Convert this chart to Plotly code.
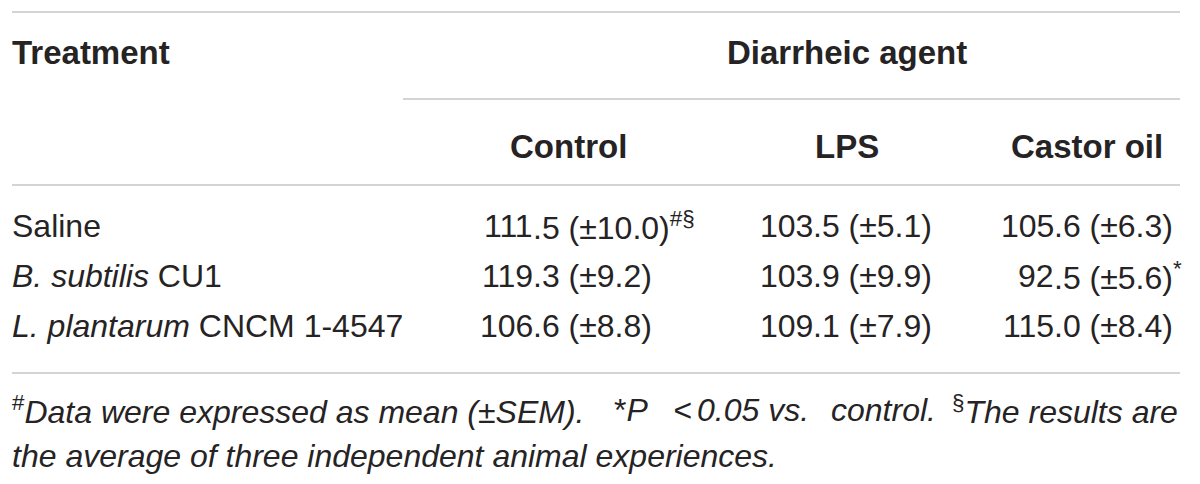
import plotly.graph_objects as go

# table content
treatments = ["Saline", "<i>B. subtilis</i> CU1", "<i>L. plantarum</i> CNCM 1-4547"]
agents = ["Control", "LPS", "Castor oil"]
means = [[111.5, 103.5, 105.6],
         [119.3, 103.9, 92.5],
         [106.6, 109.1, 115.0]]
sems = [[10.0, 5.1, 6.3],
        [9.2, 9.9, 5.6],
        [8.8, 7.9, 8.4]]
marks = [["#§", "", ""],
         ["", "", "*"],
         ["", "", ""]]
# first footnote line is justified in the original, so it is set in pieces
foot_line1 = ["<sup>#</sup><i>Data were expressed as mean (±SEM).</i>",
              "*<i>P</i>",
              "<i>&lt;</i>",
              "<i>0.05 vs.</i>",
              "<i>control.</i>",
              "<sup>§</sup><i>The results are</i>"]
foot_line2 = "<i>the average of three independent animal experiences.</i>"

W, H = 1200, 484
OFF = 8  # default body margin of the html page
ink = "#262324"
rule = "#c6c6c6"
body = dict(family="Liberation Sans", size=32, color=ink)
bold = dict(family="Liberation Sans", size=33, color=ink, weight="bold")
small = dict(family="Liberation Sans", size=32, color=ink)

# layout positions (screen pixels)
left = 12
right = 1180
head_y = 52
sub_y = 146
row_y = [226, 276, 326]
col_c = [568, 847, 1087]
dec_x = [533, 813, 1054]
foot_y = [410, 456]
foot_x = [(left, "left"), (614, "left"), (682, "center"), (697, "left"),
          (936, "right"), (1178, "right")]

fig = go.Figure()
ann = []

ann.append(dict(x=left, y=head_y, text="Treatment", xanchor="left", font=bold))
ann.append(dict(x=col_c[1], y=head_y, text="Diarrheic agent", xanchor="center", font=bold))
for a, cx in zip(agents, col_c):
    ann.append(dict(x=cx, y=sub_y, text=a, xanchor="center", font=bold))

for i, t in enumerate(treatments):
    ann.append(dict(x=left, y=row_y[i], text=t, xanchor="left", font=body))
    for j in range(3):
        # decimal-aligned: integer part ends at dec_x, the rest starts there
        ip, fp = f"{means[i][j]:.1f}".split(".")
        ann.append(dict(x=dec_x[j], y=row_y[i], text=ip, xanchor="right", font=body))
        rest = f".{fp} (±{sems[i][j]:.1f})"
        if marks[i][j]:
            rest += f"<sup>{marks[i][j]}</sup>"
        ann.append(dict(x=dec_x[j], y=row_y[i], text=rest, xanchor="left", font=body))

for piece, (fx, anchor) in zip(foot_line1, foot_x):
    ann.append(dict(x=fx, y=foot_y[0], text=piece, xanchor=anchor, font=small))
ann.append(dict(x=left, y=foot_y[1], text=foot_line2, xanchor="left", font=small))

for a in ann:
    a.update(xref="x", yref="y", showarrow=False, yanchor="middle",
             borderpad=0, borderwidth=0)

shapes = []
for x0, y in [(left, 12), (403, 99), (left, 185), (left, 373)]:
    shapes.append(dict(type="line", xref="x", yref="y", x0=x0, x1=right, y0=y, y1=y,
                       line=dict(color=rule, width=1.6)))

fig.update_layout(
    width=W, height=H,
    margin=dict(l=0, r=0, t=0, b=0),
    paper_bgcolor="white", plot_bgcolor="white",
    xaxis=dict(range=[OFF, W + OFF], visible=False, fixedrange=True),
    yaxis=dict(range=[H + OFF, OFF], visible=False, fixedrange=True),
    annotations=ann, shapes=shapes, showlegend=False,
)

fig.write_html("out.html")
